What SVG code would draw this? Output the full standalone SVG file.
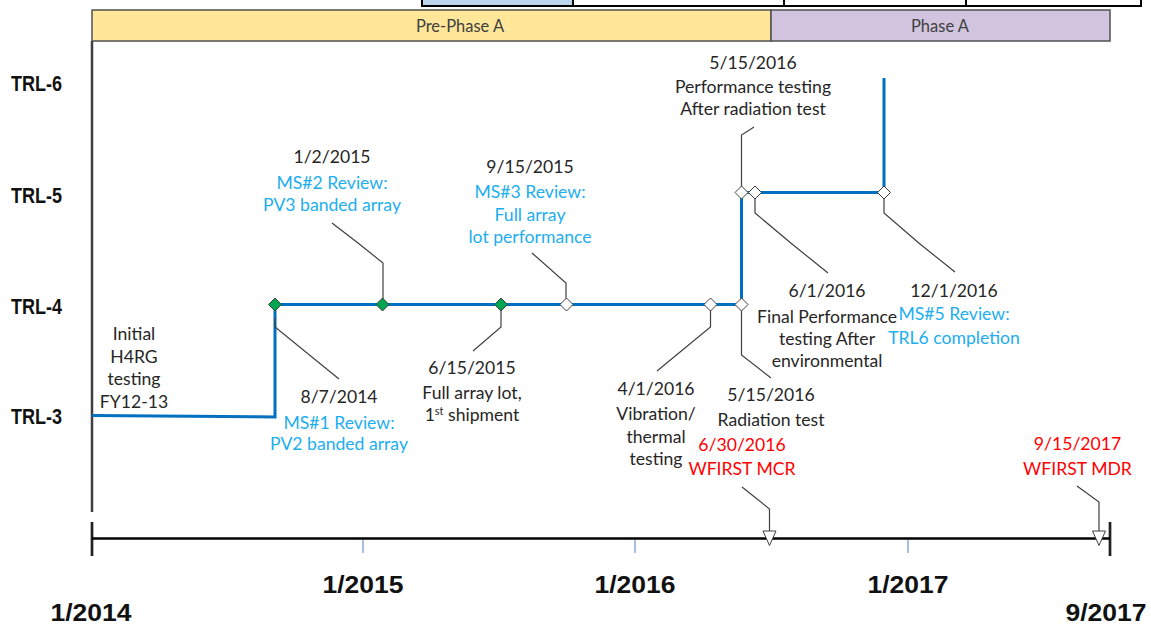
<svg xmlns="http://www.w3.org/2000/svg" width="1151" height="624" viewBox="0 0 1151 624">
<defs>
<style>
.t{font-family:Lato,"Liberation Sans",sans-serif;font-size:17.6px;fill:#262626;text-anchor:middle}
.b{fill:#21AEEF}
.r{fill:#FF0000}
.trl{font-family:"Liberation Sans",Arial,sans-serif;font-size:22px;font-weight:bold;fill:#111}
.ax{font-family:"Liberation Sans",Arial,sans-serif;font-size:23.5px;font-weight:bold;fill:#111;text-anchor:middle}
.ph{font-family:Lato,"Liberation Sans",sans-serif;font-size:16.5px;fill:#404040;text-anchor:middle}
.co{fill:none;stroke:#404040;stroke-width:1.2}
.dg{fill:#00A550;stroke:#404040;stroke-width:1}
.dw{fill:#fff;stroke:#404040;stroke-width:1}
.tri{fill:#fff;stroke:#404040;stroke-width:1}
.tick{stroke:#8EA9DB;stroke-width:1.5}
</style>
</defs>
<rect width="1151" height="624" fill="#fff"/>
<g id="top-boxes" stroke="#000" stroke-width="2">
<rect x="422" y="-6" width="151" height="12" fill="#BDD7EE"/>
<rect x="573" y="-6" width="211" height="12" fill="#fff"/>
<rect x="784" y="-6" width="182" height="12" fill="#fff"/>
<rect x="966" y="-6" width="175" height="12" fill="#fff"/>
</g>
<g id="phase-pre">
<rect x="92" y="10" width="679" height="31" fill="#FFE699" stroke="#505050" stroke-width="1.5"/>
<text class="ph" x="460" y="31.5">Pre-Phase A</text>
</g>
<g id="phase-a">
<rect x="771" y="10" width="339" height="31" fill="#D0C4DE" stroke="#505050" stroke-width="1.5"/>
<text class="ph" x="940" y="31.5">Phase A</text>
</g>
<g id="trl-labels">
<text class="trl" x="11" y="91" textLength="51" lengthAdjust="spacingAndGlyphs">TRL-6</text>
<text class="trl" x="11" y="203" textLength="51" lengthAdjust="spacingAndGlyphs">TRL-5</text>
<text class="trl" x="11" y="314" textLength="51" lengthAdjust="spacingAndGlyphs">TRL-4</text>
<text class="trl" x="11" y="424" textLength="51" lengthAdjust="spacingAndGlyphs">TRL-3</text>
</g>
<g id="axis">
<line x1="92" y1="41" x2="92" y2="512" stroke="#404040" stroke-width="2.5"/>
<line x1="92" y1="522" x2="92" y2="556" stroke="#222" stroke-width="2.7"/>
<line x1="1110" y1="522" x2="1110" y2="556" stroke="#222" stroke-width="2.7"/>
<line x1="92" y1="538.5" x2="1110" y2="538.5" stroke="#000" stroke-width="2.7"/>
<line class="tick" x1="363" y1="540" x2="363" y2="553"/>
<line class="tick" x1="635" y1="540" x2="635" y2="553"/>
<line class="tick" x1="908" y1="540" x2="908" y2="553"/>
<text class="ax" x="363" y="593" textLength="81" lengthAdjust="spacingAndGlyphs">1/2015</text>
<text class="ax" x="635" y="593" textLength="81" lengthAdjust="spacingAndGlyphs">1/2016</text>
<text class="ax" x="908" y="593" textLength="81" lengthAdjust="spacingAndGlyphs">1/2017</text>
<text class="ax" x="91" y="621" textLength="81" lengthAdjust="spacingAndGlyphs">1/2014</text>
<text class="ax" x="1106" y="621" textLength="81" lengthAdjust="spacingAndGlyphs">9/2017</text>
</g>
<g id="trl-path">
<path d="M92,415.5 L275,417 L275,304.5 L741.5,304.5 L741.5,192.5 L884,192.5 L884,78" fill="none" stroke="#0070C0" stroke-width="3"/>
</g>
<g id="connectors">
<path class="co" d="M275,318 L275,327 L339,379"/>
<path class="co" d="M383,304 L383,263 L358,243 L332,223"/>
<path class="co" d="M566,304 L566,283 L532,253"/>
<path class="co" d="M501,304 L501,327 L473,351"/>
<path class="co" d="M710.5,304 L710.5,327 L657,371"/>
<path class="co" d="M741.5,304 L741.5,355 L771,378"/>
<path class="co" d="M741.5,192 L741.5,135 L754,127"/>
<path class="co" d="M755,192 L755,213 L792,244 L828,273"/>
<path class="co" d="M884,192 L884,213 L920,244 L955,272"/>
<path class="co" d="M742,487 L769.5,509 L769.5,531"/>
<path class="co" d="M1077,486 L1099,502 L1099,531"/>
</g>
<g id="ms-initial">
<text class="t" x="134" y="340">Initial</text>
<text class="t" x="134" y="363">H4RG</text>
<text class="t" x="134" y="385">testing</text>
<text class="t" x="134" y="408">FY12-13</text>
</g>
<g id="ms1">
<path class="dg" d="M275,298 L281.5,304.5 L275,311 L268.5,304.5 Z"/>
<text class="t" x="339" y="403">8/7/2014</text>
<text class="t b" x="339" y="429">MS#1 Review:</text>
<text class="t b" x="339" y="450">PV2 banded array</text>
</g>
<g id="ms2">
<path class="dg" d="M382.5,298 L389,304.5 L382.5,311 L376,304.5 Z"/>
<text class="t" x="332" y="163">1/2/2015</text>
<text class="t b" x="332" y="189">MS#2 Review:</text>
<text class="t b" x="332" y="211">PV3 banded array</text>
</g>
<g id="shipment">
<path class="dg" d="M501,298 L507.5,304.5 L501,311 L494.5,304.5 Z"/>
<text class="t" x="472" y="374">6/15/2015</text>
<text class="t" x="472" y="398.5">Full array lot,</text>
<text class="t" x="472" y="421">1<tspan font-size="11" dy="-6">st</tspan><tspan dy="6"> shipment</tspan></text>
</g>
<g id="ms3">
<path class="dw" d="M566.5,298 L573,304.5 L566.5,311 L560,304.5 Z"/>
<text class="t" x="530" y="173">9/15/2015</text>
<text class="t b" x="530" y="198">MS#3 Review:</text>
<text class="t b" x="530" y="221">Full array</text>
<text class="t b" x="530" y="243">lot performance</text>
</g>
<g id="vibration">
<path class="dw" d="M710.5,298 L717,304.5 L710.5,311 L704,304.5 Z"/>
<text class="t" x="656" y="394.5">4/1/2016</text>
<text class="t" x="656" y="420">Vibration/</text>
<text class="t" x="656" y="443">thermal</text>
<text class="t" x="656" y="464.5">testing</text>
</g>
<g id="radiation">
<path class="dw" d="M741.5,298 L748,304.5 L741.5,311 L735,304.5 Z"/>
<text class="t" x="771" y="401">5/15/2016</text>
<text class="t" x="771" y="425.5">Radiation test</text>
</g>
<g id="perf-after-rad">
<path class="dw" d="M741.5,186 L748,192.5 L741.5,199 L735,192.5 Z"/>
<text class="t" x="753" y="69">5/15/2016</text>
<text class="t" x="753" y="93">Performance testing</text>
<text class="t" x="753" y="115">After radiation test</text>
</g>
<g id="final-perf">
<path class="dw" d="M755,186 L761.5,192.5 L755,199 L748.5,192.5 Z"/>
<text class="t" x="827" y="297">6/1/2016</text>
<text class="t" x="827" y="323">Final Performance</text>
<text class="t" x="827" y="345">testing After</text>
<text class="t" x="827" y="367">environmental</text>
</g>
<g id="ms5">
<path class="dw" d="M884,186 L890.5,192.5 L884,199 L877.5,192.5 Z"/>
<text class="t" x="954" y="297">12/1/2016</text>
<text class="t b" x="954" y="320">MS#5 Review:</text>
<text class="t b" x="954" y="343.5">TRL6 completion</text>
</g>
<g id="mcr">
<path class="tri" d="M763,531 L776,531 L769.5,545.5 Z"/>
<text class="t r" x="742" y="451">6/30/2016</text>
<text class="t r" x="742" y="474.5">WFIRST MCR</text>
</g>
<g id="mdr">
<path class="tri" d="M1092.5,531 L1105.5,531 L1099,545.5 Z"/>
<text class="t r" x="1077.5" y="449.5">9/15/2017</text>
<text class="t r" x="1077.5" y="474.5">WFIRST MDR</text>
</g>
</svg>
